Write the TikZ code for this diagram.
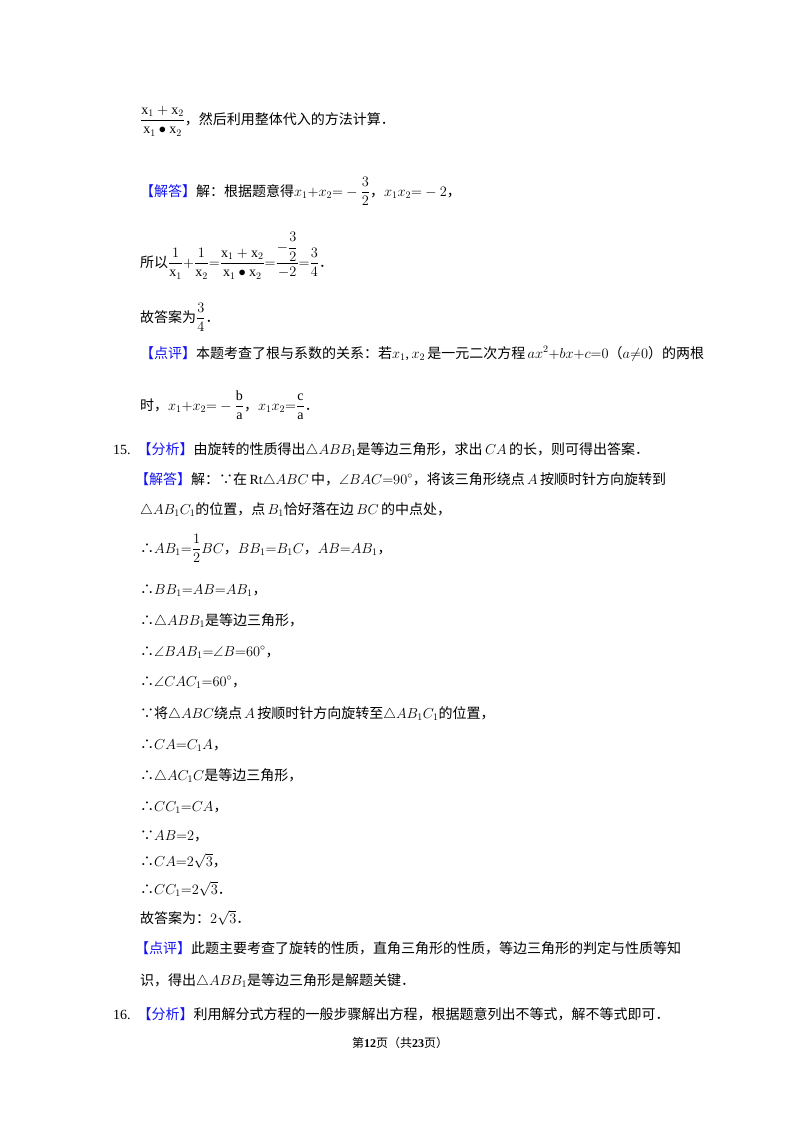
\documentclass[tikz,border=0pt]{standalone}
\usepackage{amsmath,amssymb}
\usepackage{fontspec}
\setmainfont{Liberation Serif}
\newfontfamily\cjk{Noto Sans CJK SC}
\definecolor{lb}{RGB}{20,20,240}
\newcommand{\C}[1]{{\cjk #1}}
\newcommand{\lab}[1]{{\color{lb}\cjk 【#1】}}
\newcommand{\so}{{\cjk ∴}}
\newcommand{\bc}{{\cjk ∵}}
\newcommand{\dt}{{\cjk ．}}
\begin{document}
\begin{tikzpicture}[x=1pt,y=-1pt,every node/.style={anchor=base west,inner sep=0pt,font=\fontsize{14}{16}\selectfont}]
\useasboundingbox (0,0) rectangle (800,1132);
\fill[white] (0,0) rectangle (800,1132);
\node (a1) at (140,124) {$\dfrac{\mathrm{x}_1+\mathrm{x}_2}{\mathrm{x}_1\bullet\mathrm{x}_2}$\C{，然后利用整体代入的方法计算．}};
\node (a2) at (140,196) {\lab{解答}\C{解：根据题意得}$x_1{+}x_2{=}-\dfrac32$\C{，}$x_1x_2{=}-2$\C{，}};
\node (a3) at (140,267) {\C{所以}$\dfrac{1}{\mathrm{x}_1}{+}\dfrac{1}{\mathrm{x}_2}{=}\dfrac{\mathrm{x}_1+\mathrm{x}_2}{\mathrm{x}_1\bullet\mathrm{x}_2}{=}\dfrac{-\dfrac32}{-2}{=}\dfrac34$\dt};
\node (a4) at (140,322) {\C{故答案为}$\dfrac34$\dt};
\node (a5) at (140,358) {\lab{点评}\C{本题考查了根与系数的关系：若}$x_1$,\,$x_2$\,\C{是一元二次方程}\,$ax^2{+}bx{+}c{=}0$\C{（}$a{\neq}0$\C{）的两根}};
\node (a6) at (140,410) {\C{时，}$x_1{+}x_2{=}-\dfrac{\mathrm b}{\mathrm a}$\C{，}$x_1x_2{=}\dfrac{\mathrm c}{\mathrm a}$\dt};
\node (b0) at (113,454) {15.\ \ \lab{分析}\C{由旋转的性质得出}$\triangle ABB_1$\C{是等边三角形，求出}\,$CA$\,\C{的长，则可得出答案．}};
\node (b1) at (135,484) {\lab{解答}\C{解：}\bc\C{在}\,Rt$\triangle ABC$\,\C{中，}$\angle BAC{=}90^\circ$\C{，将该三角形绕点}\,$A$\,\C{按顺时针方向旋转到}};
\node (b2) at (140,514) {$\triangle AB_1C_1$\C{的位置，点}\,$B_1$\C{恰好落在边}\,$BC$\,\C{的中点处，}};
\node (b3) at (140,553) {\so$AB_1{=}\dfrac12BC$\C{，}$BB_1{=}B_1C$\C{，}$AB{=}AB_1$\C{，}};
\node (b4) at (140,594) {\so$BB_1{=}AB{=}AB_1$\C{，}};
\node (b5) at (140,625) {\so$\triangle ABB_1$\C{是等边三角形，}};
\node (b6) at (140,656) {\so$\angle BAB_1{=}\angle B{=}60^\circ$\C{，}};
\node (b7) at (140,686) {\so$\angle CAC_1{=}60^\circ$\C{，}};
\node (b8) at (140,718) {\bc\C{将}$\triangle ABC$\C{绕点}\,$A$\,\C{按顺时针方向旋转至}$\triangle AB_1C_1$\C{的位置，}};
\node (b9) at (140,749) {\so$CA{=}C_1A$\C{，}};
\node (b10) at (140,780) {\so$\triangle AC_1C$\C{是等边三角形，}};
\node (b11) at (140,811) {\so$CC_1{=}CA$\C{，}};
\node (b12) at (140,840) {\bc$AB{=}2$\C{，}};
\node (b13) at (140,866) {\so$CA{=}2\sqrt3$\C{，}};
\node (b14) at (140,894) {\so$CC_1{=}2\sqrt3$\dt};
\node (b15) at (140,923) {\C{故答案为：}$2\sqrt3$\dt};
\node (b16) at (135,953) {\lab{点评}\C{此题主要考查了旋转的性质，直角三角形的性质，等边三角形的判定与性质等知}};
\node (b17) at (140,985) {\C{识，得出}$\triangle ABB_1$\C{是等边三角形是解题关键．}};
\node (c0) at (113,1019) {16.\ \ \lab{分析}\C{利用解分式方程的一般步骤解出方程，根据题意列出不等式，解不等式即可．}};
\node[anchor=base,font=\fontsize{12}{14}\selectfont] (ft) at (400,1047) {\C{第}\textbf{12}\C{页（共}\textbf{23}\C{页）}};
\end{tikzpicture}
\end{document}
